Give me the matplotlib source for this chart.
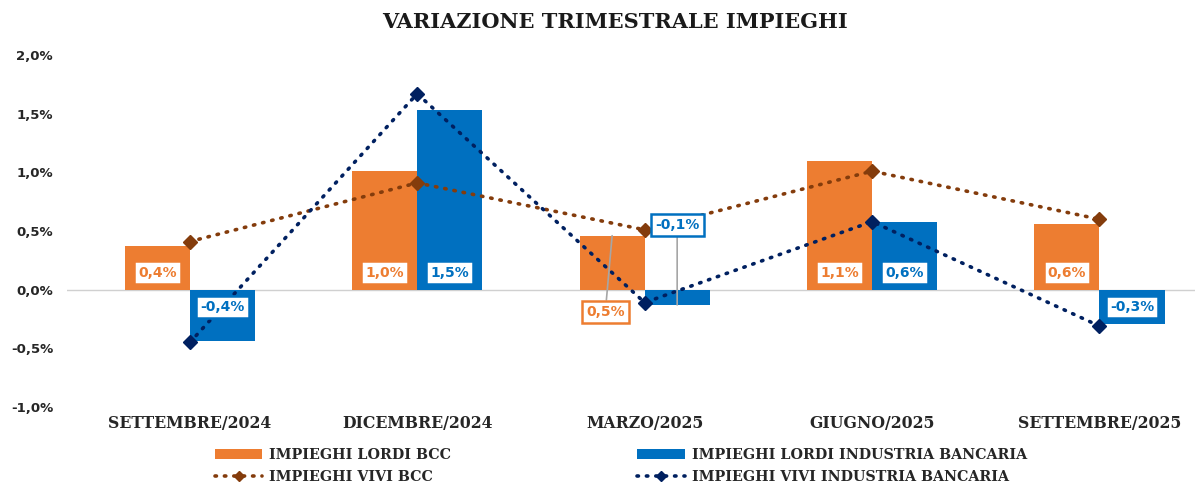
import matplotlib
matplotlib.use("Agg")
import matplotlib.pyplot as plt
import numpy as np

categories = ["SETTEMBRE/2024", "DICEMBRE/2024", "MARZO/2025", "GIUGNO/2025", "SETTEMBRE/2025"]
lordi_bcc = [0.37, 1.01, 0.46, 1.10, 0.56]
lordi_ib = [-0.44, 1.53, -0.13, 0.58, -0.29]
vivi_bcc = [0.41, 0.91, 0.51, 1.01, 0.60]
vivi_ib = [-0.45, 1.67, -0.11, 0.58, -0.31]
yticks = [-1.0, -0.5, 0.0, 0.5, 1.0, 1.5, 2.0]

ORANGE = "#ED7D31"
BLUE = "#0070C0"
BROWN = "#843C0C"
NAVY = "#002060"

fig = plt.figure(figsize=(12, 4.87), dpi=100)
ax = fig.add_axes([67/1200, 1-407/487, (1195-67)/1200, (407-55)/487])

x = np.arange(len(categories))
w = 0.286
b1 = ax.bar(x - w/2, lordi_bcc, w, color=ORANGE, label="IMPIEGHI LORDI BCC", zorder=2)
b2 = ax.bar(x + w/2, lordi_ib, w, color=BLUE, label="IMPIEGHI LORDI INDUSTRIA BANCARIA", zorder=2)
l1, = ax.plot(x, vivi_bcc, linestyle=(0, (0.4, 2.2)), linewidth=2.6, color=BROWN, marker="D",
              markersize=7, dash_capstyle="round", label="IMPIEGHI VIVI BCC", zorder=3)
l2, = ax.plot(x, vivi_ib, linestyle=(0, (0.4, 2.2)), linewidth=2.6, color=NAVY, marker="D",
              markersize=7, dash_capstyle="round", label="IMPIEGHI VIVI INDUSTRIA BANCARIA", zorder=3)

ax.axhline(0, color="#D0D0D0", linewidth=1, zorder=1)
ax.set_xlim(-0.54, 4.42)
ax.set_ylim(-1.0, 2.0)
ax.set_yticks(yticks)
ax.set_yticklabels([f"{v:.1f}%".replace(".", ",") for v in yticks],
                   fontsize=9.5, fontweight="bold", color="#262626", family="DejaVu Sans")
ax.set_xticks(x)
ax.set_xticklabels(categories, fontsize=11.3, fontweight="bold", family="DejaVu Serif", color="#262626")
ax.tick_params(axis="both", length=0)
ax.tick_params(axis="x", pad=6)
ax.tick_params(axis="y", pad=10)
for s in ax.spines.values():
    s.set_visible(False)

def fmt(v):
    return f"{v:.1f}%".replace(".", ",")

def lab(xp, yp, v, col, xy=None):
    kw = dict(fontsize=10, fontweight="bold", color=col, ha="center", va="center",
              family="DejaVu Sans",
              bbox=dict(boxstyle="square,pad=0.3", fc="white", ec=col, lw=1.8), zorder=5)
    if xy is None:
        ax.text(xp, yp, fmt(v), **kw)
    else:
        ax.annotate(fmt(v), xy=xy, xytext=(xp, yp),
                    arrowprops=dict(arrowstyle="-", color="#A6A6A6", lw=1.2,
                                    shrinkA=0, shrinkB=0), **kw)

for i in range(len(categories)):
    if i == 2:
        lab(x[i] - w/2 - 0.03, -0.19, lordi_bcc[i], ORANGE,
            xy=(x[i] - w/2 + 0.0, lordi_bcc[i]))
        lab(x[i] + w/2, 0.55, lordi_ib[i], BLUE,
            xy=(x[i] + w/2, lordi_ib[i]))
        continue
    for xv, v, col in [(x[i] - w/2, lordi_bcc[i], ORANGE), (x[i] + w/2, lordi_ib[i], BLUE)]:
        lab(xv, 0.145 if v > 0 else -0.15, v, col)

fig.text(615/1200, 1-22/487, "VARIAZIONE TRIMESTRALE IMPIEGHI", ha="center", va="center",
         fontsize=15, fontweight="bold", family="DejaVu Serif", color="#1a1a1a")

leg = fig.legend(handles=[b1, l1, b2, l2], ncol=2, frameon=False,
                 loc="center", bbox_to_anchor=(621/1200, 1-466/487),
                 prop=dict(family="DejaVu Serif", weight="bold", size=10.3),
                 handlelength=3.3, columnspacing=13, labelspacing=0.5, handletextpad=0.5,
                 markerscale=0.8)
for t in leg.get_texts():
    t.set_color("#262626")

fig.savefig("out.png", dpi=100)
